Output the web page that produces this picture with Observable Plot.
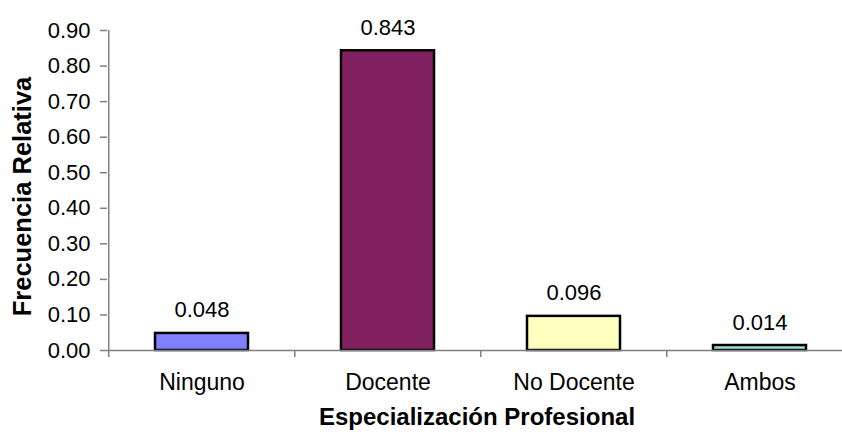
<!DOCTYPE html>
<html>
<head>
<meta charset="utf-8">
<script src="https://cdn.jsdelivr.net/npm/d3@7"></script>
<script src="https://cdn.jsdelivr.net/npm/@observablehq/plot@0.6"></script>
<style>
  html, body { margin: 0; padding: 0; background: #fff; }
  svg { font-family: "Liberation Sans", Arial, sans-serif; }
</style>
</head>
<body>
<div id="chart"></div>
<script>
const categories = ["Ninguno", "Docente", "No Docente", "Ambos"];
const values = [0.048, 0.843, 0.096, 0.014];
const valueLabels = ["0.048", "0.843", "0.096", "0.014"];
const colors = ["#8080ff", "#802060", "#ffffc0", "#a0e0e0"];
const yTicks = [0, 0.1, 0.2, 0.3, 0.4, 0.5, 0.6, 0.7, 0.8, 0.9];
const xTitle = "Especialización Profesional";
const yTitle = "Frecuencia Relativa";

const data = categories.map((c, i) => ({cat: c, value: values[i], label: valueLabels[i], color: colors[i]}));

const W = 842, H = 441;
const mL = 107, mT = 30, mB = 91;
const xRange = [mL, 853];
const step = (xRange[1] - xRange[0]) / categories.length;

const chart = Plot.plot({
  width: W,
  height: H,
  marginLeft: mL,
  marginRight: 0,
  marginTop: mT,
  marginBottom: mB,
  style: {fontFamily: "'Liberation Sans', Arial, sans-serif", fontSize: "22px", color: "#000", background: "#fff", overflow: "hidden"},
  x: {domain: categories, range: xRange, paddingInner: 0.5, paddingOuter: 0.25, axis: null},
  y: {domain: [0, 0.9], axis: null},
  marks: [
    Plot.barY(data, {x: "cat", y: "value", fill: "color", stroke: "#000", strokeWidth: 2.5}),
    Plot.ruleY([0], {stroke: "#808080", strokeWidth: 1.5}),
    Plot.ruleX(categories, {x: d => d, y1: 0, y2: 0, dx: -step / 2, insetBottom: -7, stroke: "#808080", strokeWidth: 1.5}),
    Plot.ruleX([categories[0]], {x: d => d, y1: 0, y2: 0.9, dx: -step / 2, stroke: "#808080", strokeWidth: 1.5}),
    Plot.axisY({ticks: yTicks, tickFormat: d3.format(".2f"), tickSize: 7, tickPadding: 10, stroke: "#808080", strokeWidth: 1.5, fontSize: 22, label: null}),
    Plot.axisX({tickSize: 0, tickPadding: 23, fontSize: 23, label: null}),
    Plot.text(data, {x: "cat", y: "value", text: "label", dy: -23, fontSize: 22, fill: "#000"}),
    Plot.text([xTitle], {frameAnchor: "bottom", dx: 2, dy: 74, fontSize: 24, fontWeight: "bold", fill: "#000"}),
    Plot.text([yTitle], {frameAnchor: "left", textAnchor: "middle", dx: -85, dy: 6, rotate: -90, fontSize: 25.5, fontWeight: "bold", fill: "#000"})
  ]
});
document.getElementById("chart").appendChild(chart);
</script>
</body>
</html>
